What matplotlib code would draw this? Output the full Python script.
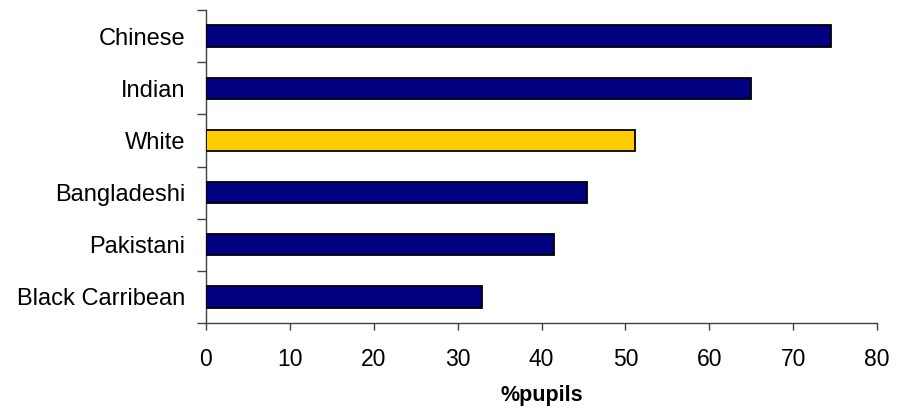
import matplotlib
matplotlib.use("Agg")
import matplotlib.pyplot as plt
import numpy as np

plt.rcParams['font.family'] = ['Liberation Sans', 'DejaVu Sans']

categories = ["Chinese", "Indian", "White", "Bangladeshi", "Pakistani", "Black Carribean"]
values = [74.5, 65.0, 51.1, 45.4, 41.5, 32.9]
highlight = "White"
x_ticks = [0, 10, 20, 30, 40, 50, 60, 70, 80]

fig = plt.figure(figsize=(8.99, 4.12), dpi=100)
ax = fig.add_axes([206 / 899, 1 - 323 / 412, (877 - 206) / 899, (323 - 10) / 412])

pos = np.arange(len(categories))
colors = ["#FFCC00" if c == highlight else "#000080" for c in categories]
ax.barh(pos, values, height=0.41, color=colors, edgecolor="black", linewidth=1.3, zorder=3)

ax.set_xlim(0, 80)
ax.set_ylim(len(categories) - 0.5, -0.5)
ax.set_xticks(x_ticks)
ax.set_xticklabels([str(t) for t in x_ticks], fontsize=16.5)
ax.set_yticks(pos)
ax.set_yticklabels(categories, fontsize=17)
ax.tick_params(axis="y", which="major", length=0, pad=15)
ax.set_yticks(np.arange(-0.5, len(categories), 1.0), minor=True)
ax.tick_params(axis="y", which="minor", length=6.5, width=1, color="#404040")
ax.tick_params(axis="x", length=5, width=1, color="#404040", pad=13)

for s in ["top", "right"]:
    ax.spines[s].set_visible(False)
for s in ["left", "bottom"]:
    ax.spines[s].set_color("#404040")
    ax.spines[s].set_linewidth(1)

ax.set_xlabel("%pupils", fontsize=15.5, fontweight="bold", labelpad=10)

fig.savefig("out.png", dpi=100)
